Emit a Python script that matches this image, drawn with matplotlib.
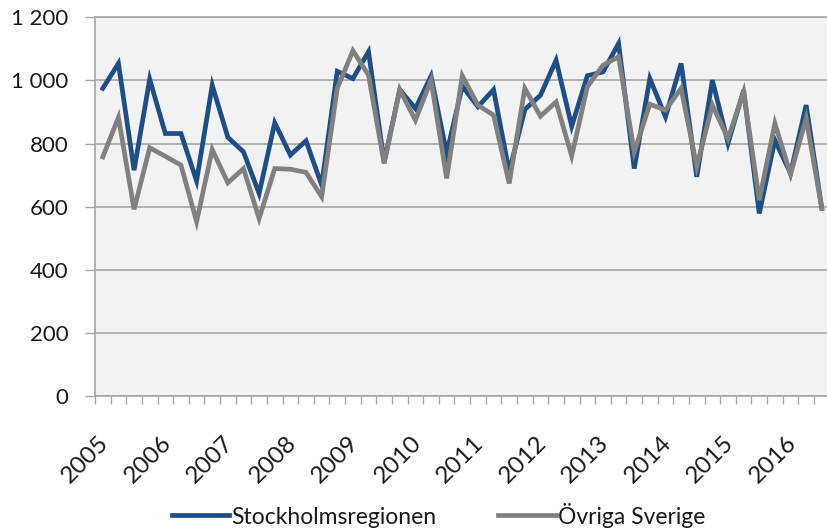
import matplotlib
matplotlib.use("Agg")
import matplotlib.pyplot as plt
import matplotlib.transforms as mtrans
from matplotlib.ticker import FuncFormatter, FixedLocator

years = ["2005", "2006", "2007", "2008", "2009", "2010", "2011", "2012",
         "2013", "2014", "2015", "2016"]

stockholm = [975, 1054, 716, 1004, 832, 832, 682, 985, 820, 774, 642, 866,
             764, 809, 669, 1029, 1006, 1091, 742, 971, 911, 1014, 769, 982,
             917, 971, 711, 908, 953, 1064, 855, 1015, 1027, 1117, 721, 1006,
             885, 1054, 695, 1001, 801, 969, 579, 811, 706, 922, 595]

ovriga = [758, 883, 592, 787, 760, 732, 553, 781, 676, 721, 563, 721,
          719, 709, 632, 975, 1094, 1017, 737, 971, 874, 1001, 690, 1015,
          922, 890, 674, 975, 887, 932, 761, 980, 1048, 1075, 774, 925,
          906, 975, 727, 922, 816, 964, 621, 864, 703, 880, 595]

BLUE = "#1F4E86"
GRAY = "#808080"
GRID = "#A6A6A6"
TXT = "#1a1a1a"
FONT = ["Lato", "DejaVu Sans"]

fig = plt.figure(figsize=(8.27, 5.30), dpi=100)
W, H = 827, 530
left, right, top, bottom = 95, 829.6, 17.3, 396.3
ax = fig.add_axes([left / W, 1 - bottom / H, (right - left) / W, (bottom - top) / H])
ax.set_facecolor("#F2F2F2")

n = len(stockholm)
x = list(range(n))
ax.plot(x, stockholm, color=BLUE, lw=3.4, solid_joinstyle="miter", label="Stockholmsregionen", zorder=3)
ax.plot(x, ovriga, color=GRAY, lw=3.4, solid_joinstyle="miter", label="Övriga Sverige", zorder=4)

ax.set_xlim(-0.5, n - 0.5)
ax.set_ylim(0, 1200)
ax.set_yticks(range(0, 1201, 200))
ax.yaxis.set_major_formatter(FuncFormatter(lambda v, p: f"{int(v):,}".replace(",", " ")))
ax.grid(axis="y", color=GRID, lw=1.2, zorder=1)
ax.set_axisbelow(True)

ax.xaxis.set_major_locator(FixedLocator([k - 0.5 for k in range(n + 1)]))
ax.xaxis.set_major_formatter(FuncFormatter(lambda v, p: ""))
ax.set_xticks([4 * i for i in range(len(years))], labels=years, minor=True)
ax.tick_params(axis="x", which="major", length=6, width=1, color=GRID, direction="out")
ax.tick_params(axis="x", which="minor", length=0, pad=26)
shift = mtrans.ScaledTranslation(-5 / 100, 0, fig.dpi_scale_trans)
for lab in ax.get_xticklabels(minor=True):
    lab.set_rotation(45)
    lab.set_ha("right")
    lab.set_va("top")
    lab.set_rotation_mode("anchor")
    lab.set_fontsize(17.5)
    lab.set_family(FONT)
    lab.set_color(TXT)
    lab.set_transform(lab.get_transform() + shift)

ax.tick_params(axis="y", length=7, width=1, color=GRID, pad=12, labelsize=16, labelcolor=TXT)
for lab in ax.get_yticklabels():
    lab.set_family(FONT)

for s in ["left", "bottom", "top"]:
    ax.spines[s].set_color(GRID)
    ax.spines[s].set_linewidth(1.2)
ax.spines["right"].set_visible(False)

leg = fig.legend(loc="center", bbox_to_anchor=(438.5 / W, 1 - 515 / H), ncol=2, frameon=False,
                 handlelength=2.5, handletextpad=0.1, columnspacing=2.7,
                 prop={"family": FONT, "size": 16.5})
for t in leg.get_texts():
    t.set_color(TXT)

fig.savefig("out.png", dpi=100)
